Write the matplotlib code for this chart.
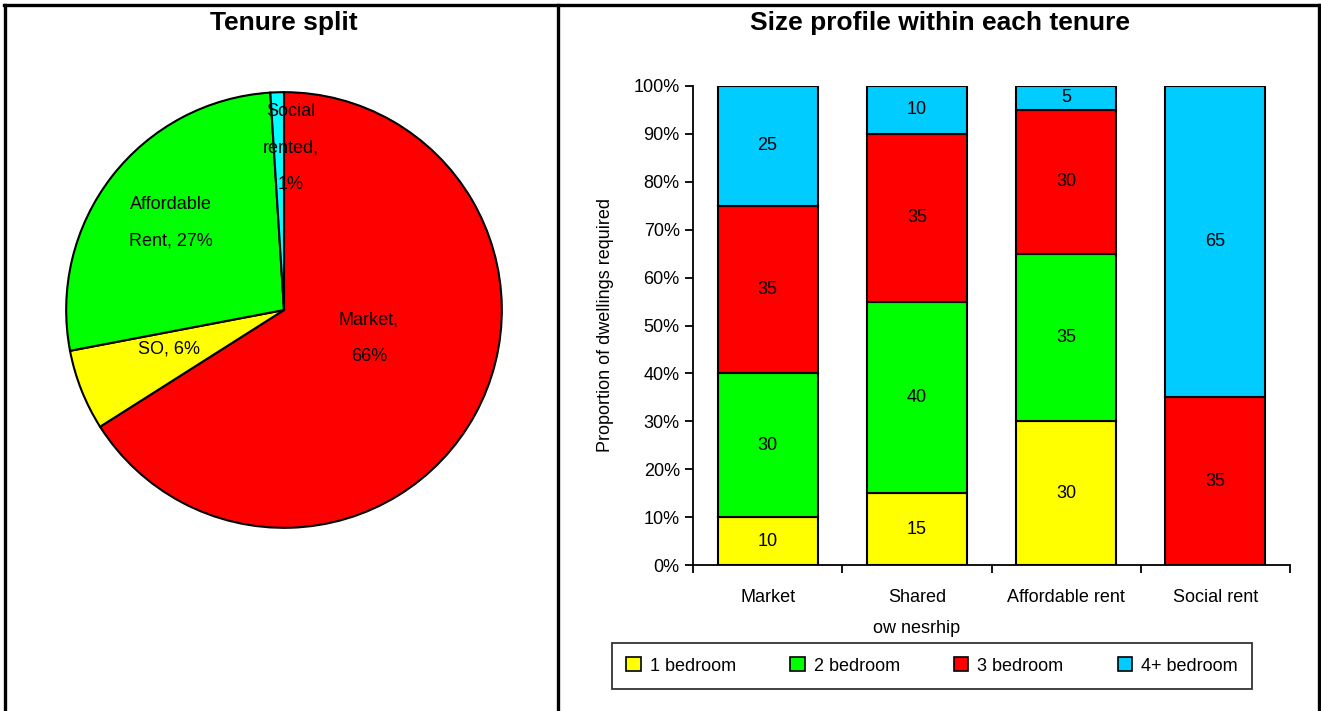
import numpy as np
import matplotlib.pyplot as plt
from matplotlib.patches import Patch
from matplotlib.lines import Line2D

plt.rcParams['font.family'] = ['Liberation Sans', 'DejaVu Sans']

# pie data
tenures = ['Market,\n66%', 'SO, 6%', 'Affordable\nRent, 27%', 'Social\nrented,\n1%']
tenure_share = [66, 6, 27, 1]
pie_colors = ['#ff0000', '#ffff00', '#00ff00', '#00ffff']

# stacked bar data
categories = ['Market', 'Shared\now nesrhip', 'Affordable rent', 'Social rent']
sizes = ['1 bedroom', '2 bedroom', '3 bedroom', '4+ bedroom']
bed1 = [10, 15, 30, 0]
bed2 = [30, 40, 35, 0]
bed3 = [35, 35, 30, 35]
bed4 = [25, 10, 5, 65]
bar_colors = ['#ffff00', '#00ff00', '#ff0000', '#00ccff']

fig = plt.figure(figsize=(13.21, 7.11), dpi=100)

# frame lines like a table
lw = 2.4
fig.add_artist(Line2D([4/1321, 1319/1321], [1-5/711, 1-5/711], color='black', lw=lw))
fig.add_artist(Line2D([5/1321, 5/1321], [0, 1-5/711], color='black', lw=lw))
fig.add_artist(Line2D([1319/1321, 1319/1321], [0, 1-5/711], color='black', lw=lw))
fig.add_artist(Line2D([558/1321, 558/1321], [0, 1-5/711], color='black', lw=lw))

fig.text(284/1321, 1-23/711, 'Tenure split', ha='center', va='center', fontsize=19, fontweight='bold')
fig.text(940/1321, 1-23/711, 'Size profile within each tenure', ha='center', va='center', fontsize=19, fontweight='bold')

# pie
ax1 = fig.add_axes([64/1321, 1-530/711, 440/1321, 440/711])
wedges, texts = ax1.pie(tenure_share, colors=pie_colors, startangle=90, counterclock=False,
                        labels=tenures, labeldistance=0.5,
                        wedgeprops=dict(edgecolor='black', linewidth=1.5),
                        textprops=dict(fontsize=13, ha='center', va='center', linespacing=2.5))
label_pos = [(0.39, -0.13), (-0.53, -0.18), (-0.52, 0.40), (0.03, 0.745)]
for t, p in zip(texts, label_pos):
    t.set_position(p)
    t.set_ha('center')
ax1.set_xlim(-1.01, 1.01)
ax1.set_ylim(-1.01, 1.01)
ax1.set_aspect('equal')

# stacked bars
ax2 = fig.add_axes([693/1321, 1-565/711, 597/1321, 479/711])
x = np.arange(len(categories))
bottom = np.zeros(len(categories))
for vals, col in zip([bed1, bed2, bed3, bed4], bar_colors):
    ax2.bar(x, vals, 0.67, bottom=bottom, color=col, edgecolor='black', linewidth=1.5)
    for xi, v, b in zip(x, vals, bottom):
        if v > 0:
            ax2.text(xi, b + v/2, str(v), ha='center', va='center', fontsize=13)
    bottom = bottom + np.array(vals)

ax2.set_xlim(-0.5, 3.5)
ax2.set_ylim(0, 100)
ax2.set_yticks(np.arange(0, 101, 10))
ax2.set_yticklabels([f'{v}%' for v in range(0, 101, 10)], fontsize=13)
ax2.set_xticks(np.arange(-0.5, 4, 1))
ax2.set_xticklabels([])
ax2.set_xticks(x, minor=True)
ax2.set_xticklabels(categories, minor=True, fontsize=13, linespacing=2.1, va='top')
ax2.tick_params(axis='x', which='minor', length=0, pad=17)
ax2.tick_params(axis='both', which='major', length=6, width=1.3, direction='out')
ax2.spines['top'].set_visible(False)
ax2.spines['right'].set_visible(False)
ax2.spines['left'].set_linewidth(1.3)
ax2.spines['bottom'].set_linewidth(1.3)
ax2.set_ylabel('Proportion of dwellings required', fontsize=13, labelpad=14)

handles = [Patch(facecolor=c, edgecolor='black', linewidth=1.2) for c in bar_colors]
leg = fig.legend(handles, sizes, loc='center', bbox_to_anchor=(932/1321, 1-666/711), ncol=4,
                 fontsize=13, frameon=True, fancybox=False, edgecolor='black',
                 handlelength=0.8, handleheight=0.8, columnspacing=3.0, handletextpad=0.5,
                 borderpad=0.8, borderaxespad=0)
leg.get_frame().set_linewidth(1.3)

fig.savefig('out.png', dpi=100)
